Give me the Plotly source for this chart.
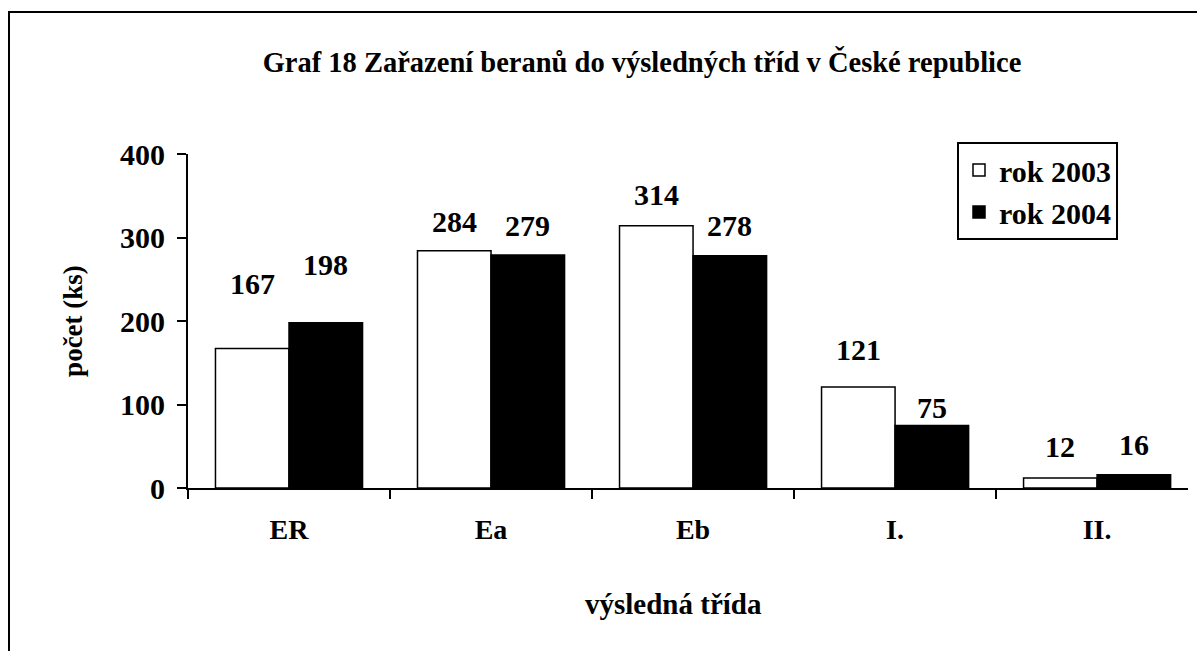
import plotly.graph_objects as go

categories = ["ER", "Ea", "Eb", "I.", "II."]
rok_2003 = [167, 284, 314, 121, 12]
rok_2004 = [198, 279, 278, 75, 16]
y_ticks = [0, 100, 200, 300, 400]

# pixel gap between each bar top and the bottom of its label (as positioned in the reference)
gap_2003 = [55, 19, 21, 27, 21]
gap_2004 = [48, 19, 20, 7, 20]

FONT = "Liberation Serif, Times New Roman, serif"
BARGAP = 0.272

fig = go.Figure()
fig.add_trace(go.Bar(
    x=categories, y=rok_2003, name="rok 2003", legendgroup="a",
    marker=dict(color="white", line=dict(color="black", width=1.5)),
))
fig.add_trace(go.Bar(
    x=categories, y=rok_2004, name="rok 2004", legendgroup="b",
    marker=dict(color="black", line=dict(color="black", width=1.5)),
))

annotations = []
half = (1 - BARGAP) / 4
for i, (a, b) in enumerate(zip(rok_2003, rok_2004)):
    for val, off, gap in ((a, -half, gap_2003[i]), (b, half, gap_2004[i])):
        annotations.append(dict(
            x=i + off, y=val, xref="x", yref="y", text=str(val),
            showarrow=False, yanchor="bottom", xanchor="center",
            yshift=gap - 7, borderpad=0,
            font=dict(family=FONT, size=30, color="black", weight="bold"),
        ))

annotations.append(dict(
    x=0.485, y=-0.347, xref="paper", yref="paper", text="výsledná třída",
    showarrow=False, xanchor="center", yanchor="middle",
    font=dict(family=FONT, size=29, color="black", weight="bold"),
))

fig.update_layout(
    width=1197, height=651,
    margin=dict(l=188, r=9, t=154, b=163),
    paper_bgcolor="white", plot_bgcolor="white",
    barmode="group", bargap=BARGAP, bargroupgap=0,
    title=dict(
        text="Graf 18 Zařazení beranů do výsledných tříd v České republice",
        x=642 / 1197, xref="container", xanchor="center",
        y=1 - 62 / 651, yref="container", yanchor="middle",
        font=dict(family=FONT, size=28.5, color="black", weight="bold"),
    ),
    legend=dict(
        x=0.769, y=1.036, xanchor="left", yanchor="top",
        bordercolor="black", borderwidth=2, bgcolor="white",
        font=dict(family=FONT, size=30, color="black", weight="bold"),
        tracegroupgap=8, traceorder="normal",
    ),
    xaxis=dict(
        type="category", range=[-0.5, 4.45],
        showline=True, linecolor="black", linewidth=2,
        ticks="outside", tickson="boundaries", ticklen=9, tickwidth=2, tickcolor="black",
        ticklabelstandoff=15, showgrid=False, zeroline=False,
        tickfont=dict(family=FONT, size=28, color="black", weight="bold"),
    ),
    yaxis=dict(
        range=[0, 400], tickvals=y_ticks,
        showline=True, linecolor="black", linewidth=2,
        ticks="outside", ticklen=9, tickwidth=2, tickcolor="black",
        ticklabelstandoff=6, showgrid=False, zeroline=False,
        tickfont=dict(family=FONT, size=30, color="black", weight="bold"),
        title=dict(text="počet (ks)", standoff=30,
                   font=dict(family=FONT, size=27, color="black", weight="bold")),
    ),
    annotations=annotations,
    shapes=[dict(
        type="rect", xref="paper", yref="paper",
        x0=(9 - 188) / 1000, x1=1.2, y0=-1.0, y1=(488 - 12) / 334,
        line=dict(color="black", width=2), fillcolor="rgba(0,0,0,0)", layer="above",
    )],
    showlegend=True,
)

fig.write_html("out.html", config={"displayModeBar": False},
               post_script="document.body.style.margin='0';")
